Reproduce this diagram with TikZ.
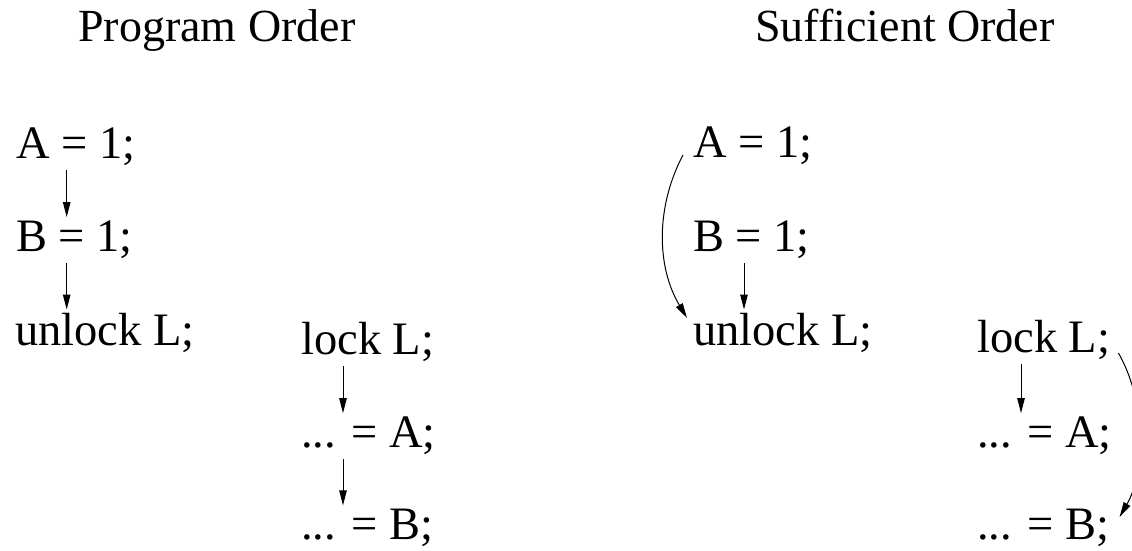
\documentclass[tikz,border=0pt]{standalone}
\usepackage{fontspec}
\setmainfont{Liberation Serif}
\usetikzlibrary{arrows.meta,calc}
\tikzset{
  stmt/.style={anchor=base west, inner sep=4pt, font=\fontsize{46.5}{55}\selectfont},
  ttl/.style={anchor=base west, inner sep=0pt, font=\fontsize{46}{55}\selectfont},
  flow/.style={line width=1pt, -{Triangle[length=15pt,width=7.5pt]}}
}
\begin{document}
\begin{tikzpicture}[x=1pt,y=1pt]
\useasboundingbox (0,0) rectangle (1132,551);
% titles
\node[ttl] (t1) at (78,509) {Program Order};
\node[ttl] (t2) at (755,509) {Sufficient Order};
% left: program order
\node[stmt] (a1) at (12,392) {A = 1;};
\node[stmt] (b1) at (12,299) {B = 1;};
\node[stmt] (u1) at (11,205) {unlock L;};
\node[stmt] (l1) at (297,196) {lock L;};
\node[stmt] (ra1) at (297,103) {... = A;};
\node[stmt] (rb1) at (297,11) {... = B;};
\draw[flow] ([xshift=54.7pt]a1.south west) -- ([xshift=54.7pt]b1.north west);
\draw[flow] ([xshift=54.7pt]b1.south west) -- ([xshift=55.7pt]u1.north west);
\draw[flow] ([xshift=46pt]l1.south west) -- ([xshift=46pt]ra1.north west);
\draw[flow] ([xshift=46pt]ra1.south west) -- ([xshift=46pt]rb1.north west);
% right: sufficient order
\node[stmt] (a2) at (689,393) {A = 1;};
\node[stmt] (b2) at (689,299) {B = 1;};
\node[stmt] (u2) at (689,205) {unlock L;};
\node[stmt] (l2) at (973,198) {lock L;};
\node[stmt] (ra2) at (973,103) {... = A;};
\node[stmt] (rb2) at (973,11) {... = B;};
\draw[flow] ([xshift=55pt]b2.south west) -- ([xshift=55pt]u2.north west);
\draw[flow] ($(a2.base west)+(-6,3)$) .. controls (656,345) and (656,285) .. ($(u2.base west)+(-2,28)$);
\draw[flow] ($(l2.base east)+(4,0)$) .. controls (1146,150) and (1146,80) .. ($(rb2.base east)+(6,23)$);
\draw[flow] ([xshift=48pt]l2.south west) -- ([xshift=48pt]ra2.north west);
\end{tikzpicture}
\end{document}
